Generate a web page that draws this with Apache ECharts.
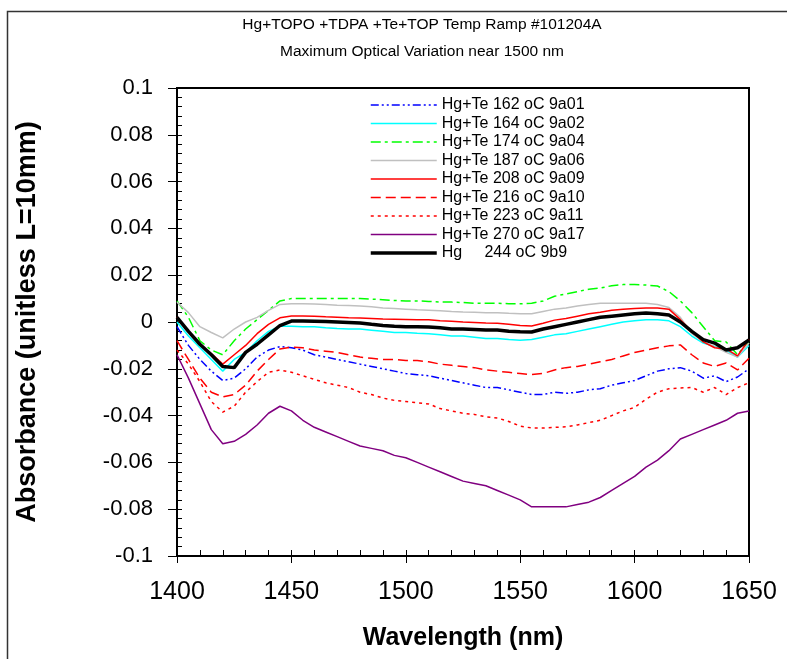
<!DOCTYPE html>
<html>
<head>
<meta charset="utf-8">
<script src="https://cdn.jsdelivr.net/npm/echarts@6/dist/echarts.min.js"></script>
<style>html,body{margin:0;padding:0;background:#fff;}#c{width:787px;height:659px;}</style>
</head>
<body>
<div id="c"></div>
<script>
const wavelengths = [1400,1405,1410,1415,1420,1425,1430,1435,1440,1445,1450,1455,1460,1465,1470,1475,1480,1485,1490,1495,1500,1505,1510,1515,1520,1525,1530,1535,1540,1545,1550,1555,1560,1565,1570,1575,1580,1585,1590,1595,1600,1605,1610,1615,1620,1625,1630,1635,1640,1645,1650];

const seriesNames = ["Hg+Te 162 oC 9a01","Hg+Te 164 oC 9a02","Hg+Te 174 oC 9a04","Hg+Te 187 oC 9a06","Hg+Te 208 oC 9a09","Hg+Te 216 oC 9a10","Hg+Te 223 oC 9a11","Hg+Te 270 oC 9a17","Hg     244 oC 9b9"];

const s9a01 = [-0.002,-0.010,-0.016,-0.021,-0.025,-0.024,-0.020,-0.015,-0.012,-0.0105,-0.011,-0.012,-0.014,-0.015,-0.016,-0.017,-0.018,-0.019,-0.020,-0.021,-0.022,-0.0225,-0.023,-0.024,-0.025,-0.026,-0.027,-0.028,-0.028,-0.029,-0.030,-0.031,-0.031,-0.030,-0.0305,-0.030,-0.029,-0.0285,-0.027,-0.026,-0.025,-0.023,-0.021,-0.020,-0.0195,-0.021,-0.024,-0.023,-0.0255,-0.0235,-0.020];
const s9a02 = [0.000,-0.006,-0.011,-0.016,-0.021,-0.016,-0.013,-0.008,-0.004,-0.0018,-0.0018,-0.002,-0.002,-0.0025,-0.0028,-0.003,-0.003,-0.0035,-0.004,-0.0045,-0.0045,-0.0048,-0.005,-0.0055,-0.006,-0.006,-0.0065,-0.007,-0.007,-0.0075,-0.0078,-0.0075,-0.0065,-0.0055,-0.005,-0.004,-0.003,-0.002,-0.001,0.000,0.0005,0.001,0.001,0.0005,-0.002,-0.006,-0.009,-0.0105,-0.012,-0.015,-0.010];
const s9a04 = [0.009,0.002,-0.008,-0.012,-0.014,-0.008,-0.003,0.001,0.005,0.009,0.010,0.010,0.010,0.010,0.010,0.010,0.010,0.0098,0.0095,0.0092,0.009,0.009,0.0088,0.0085,0.0085,0.0083,0.008,0.008,0.008,0.0078,0.0078,0.008,0.009,0.011,0.012,0.013,0.014,0.0145,0.0155,0.016,0.016,0.0158,0.0154,0.013,0.009,0.004,-0.002,-0.008,-0.0085,-0.014,-0.008];
const s9a06 = [0.0085,0.004,-0.002,-0.0045,-0.0068,-0.003,0.000,0.002,0.005,0.0075,0.0078,0.0078,0.0077,0.0075,0.0072,0.007,0.0068,0.0065,0.006,0.0058,0.0055,0.0052,0.005,0.0048,0.0045,0.0043,0.0042,0.004,0.004,0.0037,0.0035,0.0035,0.0045,0.0055,0.006,0.0068,0.0075,0.008,0.008,0.008,0.008,0.008,0.0075,0.0062,0.002,-0.005,-0.0085,-0.0105,-0.013,-0.015,-0.009];
const s9a09 = [0.002,-0.004,-0.0095,-0.0135,-0.018,-0.014,-0.010,-0.005,-0.001,0.0018,0.0026,0.0026,0.0025,0.0022,0.002,0.0018,0.0017,0.0015,0.0013,0.0012,0.0011,0.001,0.001,0.0005,0.0003,0.0,-0.0002,-0.0004,-0.0005,-0.001,-0.0015,-0.0017,-0.0005,0.0008,0.0015,0.0025,0.0035,0.0042,0.005,0.0055,0.0058,0.006,0.006,0.0055,0.001,-0.004,-0.0085,-0.011,-0.0115,-0.0145,-0.0075];
const s9a10 = [-0.008,-0.016,-0.024,-0.030,-0.032,-0.031,-0.027,-0.021,-0.016,-0.0115,-0.0107,-0.011,-0.012,-0.0125,-0.013,-0.014,-0.015,-0.0155,-0.016,-0.016,-0.0165,-0.0165,-0.017,-0.018,-0.0185,-0.019,-0.0195,-0.0205,-0.021,-0.0215,-0.022,-0.0225,-0.022,-0.0205,-0.0195,-0.019,-0.018,-0.017,-0.016,-0.0145,-0.013,-0.012,-0.011,-0.0102,-0.0098,-0.014,-0.0175,-0.019,-0.0175,-0.0205,-0.0155];
const s9a11 = [-0.012,-0.018,-0.0255,-0.034,-0.0385,-0.036,-0.030,-0.0255,-0.0215,-0.0205,-0.0215,-0.023,-0.0245,-0.026,-0.027,-0.028,-0.030,-0.031,-0.0325,-0.0335,-0.034,-0.0345,-0.035,-0.037,-0.038,-0.039,-0.0395,-0.0405,-0.041,-0.0425,-0.0445,-0.0453,-0.0453,-0.045,-0.0448,-0.044,-0.043,-0.042,-0.040,-0.038,-0.0365,-0.033,-0.030,-0.0285,-0.0282,-0.028,-0.030,-0.028,-0.031,-0.028,-0.026];
const s9a17 = [-0.014,-0.024,-0.035,-0.046,-0.052,-0.051,-0.048,-0.044,-0.039,-0.036,-0.038,-0.042,-0.045,-0.047,-0.049,-0.051,-0.053,-0.054,-0.055,-0.057,-0.058,-0.060,-0.062,-0.064,-0.066,-0.068,-0.069,-0.070,-0.072,-0.074,-0.076,-0.079,-0.079,-0.079,-0.079,-0.078,-0.077,-0.075,-0.072,-0.069,-0.066,-0.062,-0.059,-0.055,-0.050,-0.048,-0.046,-0.044,-0.042,-0.039,-0.038];
const s9b9 = [0.002,-0.004,-0.0095,-0.014,-0.019,-0.0195,-0.013,-0.0095,-0.0055,-0.0015,0.0004,0.0004,0.0003,0.0002,0.0,-0.0002,-0.0004,-0.001,-0.0015,-0.0018,-0.002,-0.002,-0.0021,-0.0025,-0.003,-0.003,-0.0032,-0.0034,-0.0034,-0.004,-0.0042,-0.0043,-0.003,-0.002,-0.001,0.0,0.001,0.002,0.0025,0.003,0.0035,0.0038,0.0035,0.003,0.0,-0.004,-0.0075,-0.009,-0.012,-0.011,-0.0077];

const allValues = [s9a01,s9a02,s9a04,s9a06,s9a09,s9a10,s9a11,s9a17,s9b9];
const colors = ['#0000ff','#00ffff','#00ff00','#c0c0c0','#ff0000','#ff0000','#ff0000','#800080','#000000'];
const dashes = [[8,3,2,3,2,3],'solid',[10,4,3,4],'solid','solid',[10,5],[3,4],'solid','solid'];
const widths = [1.5,1.5,1.5,1.5,1.5,1.5,1.5,1.5,3.5];

const FONT = '"Liberation Sans", Arial, sans-serif';

const series = allValues.map((vals, i) => ({
  name: seriesNames[i],
  type: 'line',
  xAxisIndex: 0, yAxisIndex: 0,
  showSymbol: false, symbol: 'none',
  data: wavelengths.map((w, k) => [w, vals[k]]),
  lineStyle: { color: colors[i], width: widths[i], type: dashes[i] },
  itemStyle: { color: colors[i] },
  emphasis: { disabled: true },
  animation: false,
  z: i === 8 ? 5 : 3
}));

const chart = echarts.init(document.getElementById('c'), null, { renderer: 'canvas' });
chart.setOption({
  animation: false,
  backgroundColor: '#ffffff',
  title: [
    { text: 'Hg+TOPO +TDPA +Te+TOP Temp Ramp #101204A', left: 417, top: 12, textAlign: 'center',
      textStyle: { fontFamily: FONT, fontSize: 15.5, fontWeight: 'normal', color: '#000' } },
    { text: 'Maximum Optical Variation near 1500 nm', left: 417, top: 39, textAlign: 'center',
      textStyle: { fontFamily: FONT, fontSize: 15.5, fontWeight: 'normal', color: '#000' } }
  ],
  legend: {
    orient: 'vertical', left: 364, top: 92, padding: 5,
    itemWidth: 66, itemHeight: 16, itemGap: 2.5,
    data: seriesNames.map((n, i) => ({ name: n, lineStyle: { width: widths[i], color: colors[i], type: dashes[i] } })),
    itemStyle: { opacity: 0 },
    textStyle: { fontFamily: FONT, fontSize: 16, color: '#000' },
    selectedMode: false
  },
  graphic: [
    { type: 'rect', left: 5, top: 9, shape: { width: 900, height: 900 },
      style: { fill: 'none', stroke: '#333', lineWidth: 1.5 }, silent: true, z: 0 }
  ],
  grid: { left: 177, top: 88, right: 38, bottom: 103, show: true, borderColor: '#000', borderWidth: 2, backgroundColor: 'transparent' },
  xAxis: [
    { type: 'value', min: 1400, max: 1650, interval: 50, position: 'bottom',
      name: 'Wavelength (nm)', nameLocation: 'middle', nameGap: 70,
      nameTextStyle: { fontFamily: FONT, fontSize: 25, fontWeight: 'bold', color: '#000' },
      axisLine: { show: true, onZero: false, lineStyle: { color: '#000', width: 1.5 } },
      axisTick: { show: true, inside: false, length: 7, lineStyle: { color: '#000' } },
      axisLabel: { margin: 24, fontFamily: FONT, fontSize: 25, color: '#000', formatter: v => String(v) },
      splitLine: { show: false } },
    { type: 'value', min: 1400, max: 1650, interval: 50, position: 'bottom',
      axisLine: { show: false, onZero: false },
      axisTick: { show: true, inside: true, length: 6, lineStyle: { color: '#000' } },
      minorTick: { show: true, splitNumber: 5, length: 6, lineStyle: { color: '#000' } },
      axisLabel: { show: false }, splitLine: { show: false } }
  ],
  yAxis: [
    { type: 'value', min: -0.1, max: 0.1, interval: 0.02, position: 'left',
      name: 'Absorbance (unitless L=10mm)', nameLocation: 'middle', nameGap: 136,
      nameTextStyle: { fontFamily: FONT, fontSize: 27, fontWeight: 'bold', color: '#000' },
      axisLine: { show: true, onZero: false, lineStyle: { color: '#000', width: 1.5 } },
      axisTick: { show: true, inside: false, length: 9, lineStyle: { color: '#000' } },
      axisLabel: { margin: 24, fontFamily: FONT, fontSize: 22, color: '#000',
        formatter: v => { const r = Math.round(v * 100) / 100; return r === 0 ? '0' : String(r); } },
      splitLine: { show: false } },
    { type: 'value', min: -0.1, max: 0.1, interval: 0.02, position: 'left', offset: 0,
      axisLine: { show: false, onZero: false },
      axisTick: { show: true, inside: true, length: 5, lineStyle: { color: '#000' } },
      minorTick: { show: true, splitNumber: 5, length: 5, lineStyle: { color: '#000' } },
      axisLabel: { show: false }, splitLine: { show: false } }
  ],
  series: series
});
</script>
</body>
</html>
